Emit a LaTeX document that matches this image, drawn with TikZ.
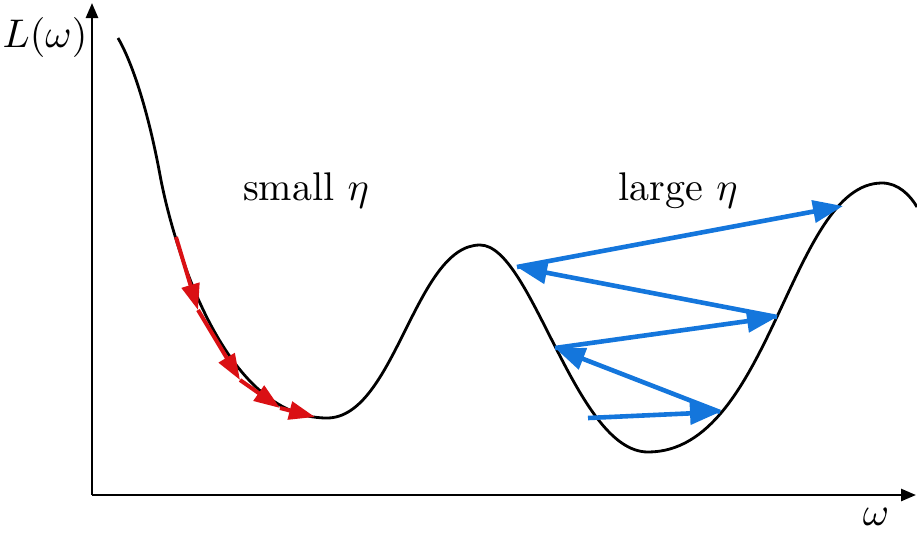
\documentclass[tikz,border=0pt]{standalone}
\usetikzlibrary{arrows.meta}
\definecolor{stepblue}{RGB}{20,118,220}
\definecolor{stepred}{RGB}{218,16,20}
\tikzset{
  axisline/.style={line width=2.6pt,-{Triangle[length=15pt,width=12pt]}},
  losscurve/.style={line width=2.8pt,black},
  bluestep/.style={line width=4.6pt,stepblue,-{Triangle[length=30pt,width=22pt]}},
  redstep/.style={line width=4pt,stepred,-{Triangle[length=26pt,width=18pt]}},
  lbl/.style={inner sep=0pt,scale=4.0}
}
\begin{document}
\begin{tikzpicture}[x=1pt,y=-1pt]
\useasboundingbox (0,0) rectangle (917,533);
\coordinate (O) at (92,495);
\coordinate (ytop) at (92,3);
\coordinate (xend) at (916,495);
\draw[axisline] (O) -- (ytop);
\draw[axisline] (O) -- (xend);
\draw[losscurve] (118,38) .. controls (132,62) and (148,110) .. (160,175)
  .. controls (172,240) and (222,418) .. (327,418)
  .. controls (395,418) and (415,245) .. (480,245)
  .. controls (532,245) and (575,452) .. (648,452)
  .. controls (771,452) and (790,183) .. (882,183)
  .. controls (898,183) and (910,195) .. (917,207);
% red small steps
\coordinate (r0) at (176,237);
\coordinate (r1) at (198,310);
\coordinate (r2) at (240,380);
\coordinate (r3) at (280,408);
\coordinate (r4) at (315,417);
\draw[redstep] (r0) -- (r1);
\draw[redstep] (r1) -- (r2);
\draw[redstep] (r2) -- (r3);
\draw[redstep] (r3) -- (r4);
% blue large steps
\coordinate (b0) at (588,418);
\coordinate (b1) at (720,412);
\coordinate (b2) at (555,348);
\coordinate (b3) at (777,317);
\coordinate (b4) at (517,267);
\coordinate (b5) at (843,206);
\draw[bluestep] (b0) -- (b1);
\draw[bluestep] (b1) -- (b2);
\draw[bluestep] (b2) -- (b3);
\draw[bluestep] (b3) -- (b4);
\draw[bluestep] (b4) -- (b5);
% labels
\node[lbl] (small) at (306,191) {small $\eta$};
\node[lbl] (large) at (678,191) {large $\eta$};
\node[lbl] (Lw) at (45,37) {$L(\omega)$};
\node[lbl] (w) at (876,517) {$\omega$};
\end{tikzpicture}
\end{document}
